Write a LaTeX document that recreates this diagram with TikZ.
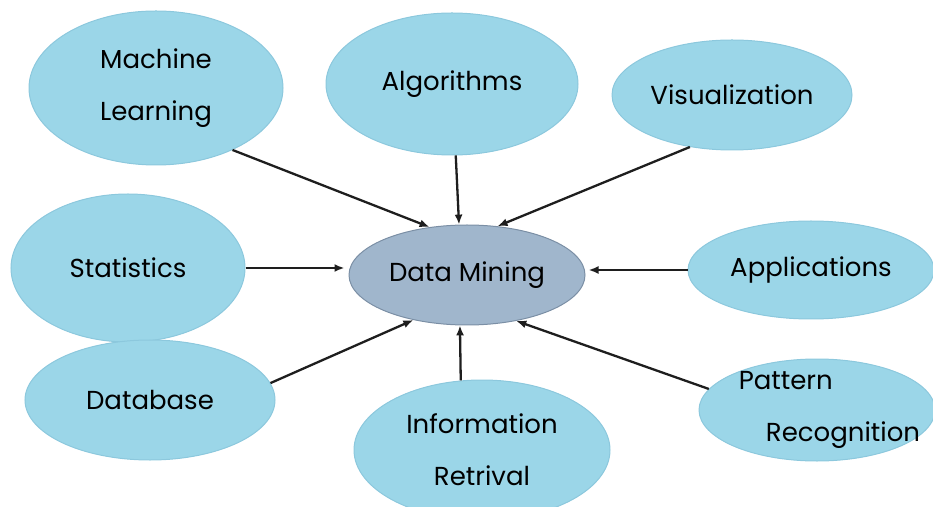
\documentclass[tikz,border=0pt]{standalone}
\usepackage{fontspec}
\setmainfont{Poppins}
\usetikzlibrary{shapes.geometric, arrows.meta}
\definecolor{topicblue}{HTML}{9BD6E8}
\definecolor{topicedge}{HTML}{8CC8DD}
\definecolor{corefill}{HTML}{A0B6CC}
\definecolor{coreedge}{HTML}{7B8FA5}
\definecolor{arrowgray}{HTML}{1E1E1E}

\begin{document}
\begin{tikzpicture}[x=1pt,y=1pt]
    \tikzstyle{every node}=[shape=ellipse, inner sep=0pt, align=center, font=\fontsize{26}{52}\selectfont];
    \tikzstyle{topic}=[draw=topicedge, fill=topicblue, line width=1pt];
    \tikzstyle{link}=[draw=arrowgray, line width=2.3pt, -{Latex[length=10pt, width=8pt]}];
    \useasboundingbox (0,0) rectangle (933,506);
    \node[topic, minimum width=254, minimum height=154] (ML) at (156,418) {Machine\\Learning};
    \node[topic, minimum width=252, minimum height=142] (Alg) at (452,422) {Algorithms};
    \node[topic, minimum width=240, minimum height=110] (Vis) at (732,411) {Visualization};
    \node[topic, minimum width=234, minimum height=148] (Stat) at (128,238) {Statistics};
    \node[draw=coreedge, fill=corefill, line width=1pt, minimum width=236, minimum height=100] (DM) at (467,231) {Data Mining};
    \node[topic, minimum width=246, minimum height=98, inner xsep=-20pt] (App) at (811,236) {Applications};
    \node[topic, minimum width=250, minimum height=120] (DB) at (150,106) {Database};
    \node[topic, minimum width=256, minimum height=140] (IR) at (482,56) {Information\\Retrival};
    \node[topic, minimum width=236, minimum height=102, inner xsep=-40pt, inner ysep=-10pt] (PR) at (817,96) {Pattern\hspace*{2.4em}\\\hspace*{2em}Recognition};
    \draw[link] (ML.-39) -- (DM.128);
    \draw[link] (Alg.-87) -- (DM.99);
    \draw[link] (Vis.-129) -- (DM.58);
    \draw[link, shorten >=4pt] (Stat.east) -- (Stat.east -| DM.west);
    \draw[link, shorten >=3pt] (App.west) -- (App.west -| DM.east);
    \draw[link] (DB.8) -- (DM.-140);
    \draw[link] (IR.107) -- (DM.-98);
    \draw[link] (PR.169) -- (DM.-43);
  \end{tikzpicture}
\end{document}
